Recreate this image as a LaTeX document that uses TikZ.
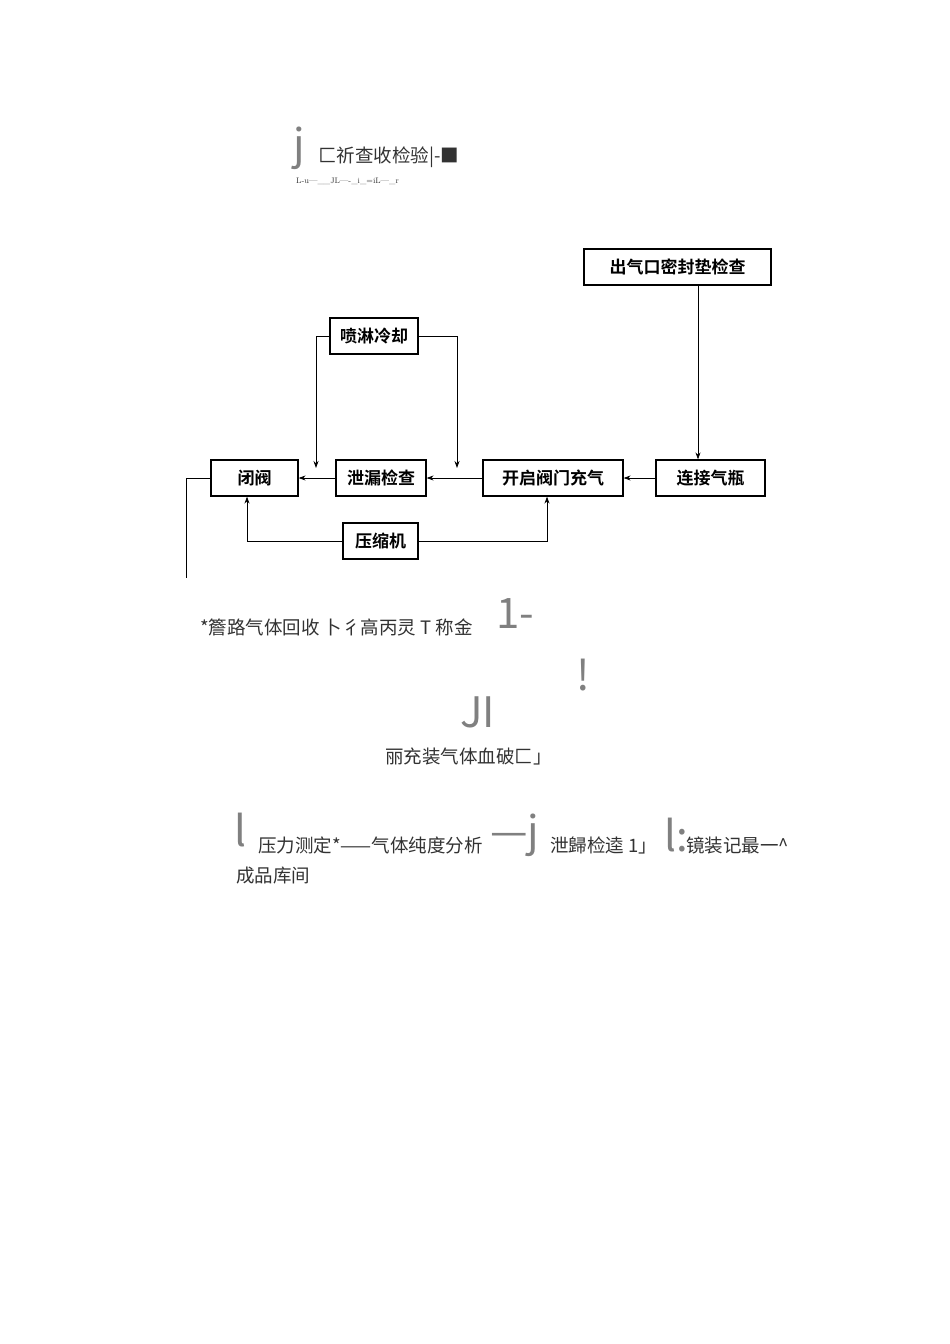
\documentclass[tikz,border=0pt]{standalone}
\usepackage{fontspec}
\newfontfamily\cjk{Noto Sans CJK SC}
\newfontfamily\cjkb{Noto Sans CJK SC Bold}
\usetikzlibrary{arrows.meta}
\definecolor{txg}{RGB}{50,50,50}
\begin{document}
\begin{tikzpicture}[x=1pt,y=-1pt,
  bx/.style={draw,line width=1.2pt,minimum height=36pt,inner sep=0pt,font=\cjkb\fontsize{17}{17}\selectfont},
  ar/.style={-{Stealth[length=7pt,width=5pt]},line width=0.8pt},
  ln/.style={line width=0.8pt},
  tx/.style={font=\cjk\fontsize{18.5}{18}\selectfont,anchor=west,inner sep=0pt,text=txg},
  big/.style={tx,font=\cjk\fontsize{42}{42}\selectfont,text=gray}]
\useasboundingbox (0,0) rectangle (950,1344);
\node[bx,minimum width=187pt] (oc) at (677.5,267) {出气口密封垫检查};
\node[bx,minimum width=88pt] (pl) at (374,336) {喷淋冷却};
\node[bx,minimum width=87pt] (bf) at (254.5,478) {闭阀};
\node[bx,minimum width=90pt] (xl) at (381,478) {泄漏检查};
\node[bx,minimum width=140pt] (kq) at (553,478) {开启阀门充气};
\node[bx,minimum width=109pt] (lj) at (710.5,478) {连接气瓶};
\node[bx,minimum width=75pt] (ys) at (380.5,541) {压缩机};
\draw[ar] (oc.south -| 698,0) -- (lj.north -| 698,0);
\draw[ar] (lj) -- (kq);
\draw[ar] (kq) -- (xl);
\draw[ar] (xl) -- (bf);
\draw[ar] (pl.west) -| (316,468);
\draw[ar] (pl.east) -| (457,468);
\draw[ar] (ys.west) -| (bf.south -| 247,0);
\draw[ar] (ys.east) -| (kq.south -| 547,0);
\coordinate (e) at (186,578);
\draw[ln] (bf.west) -| (e);
\node[big] (t1) at (293,148) {j};
\node[tx] (t2) at (318,157) {匚祈查收检验|-■};
\node[tx,font=\fontsize{8}{8}\selectfont] (t3) at (296,181) {L-u—\_\_JL—-\_i\_=iL—\_r};
\node[tx] (t4) at (200,627) {*簷路气体回收 卜彳高丙灵 T 称金};
\node[big] (t5) at (496,614) {1-};
\node[big] (t6) at (576,675) {!};
\node[big] (t7) at (460,712) {JI};
\node[tx] (t8) at (385,756) {丽充装气体血破匚」};
\node[big] (t9) at (234,830) {l};
\node[tx] (t10) at (258,845) {压力测定*——气体纯度分析};
\node[big] (t11) at (490,835) {—j};
\node[tx] (t12) at (550,845) {泄歸检逵 1」};
\node[big] (t13) at (664,835) {l:};
\node[tx] (t14) at (686,845) {镜装记最一\^{}};
\node[tx] (t15) at (236,876) {成品库间};
\end{tikzpicture}
\end{document}
